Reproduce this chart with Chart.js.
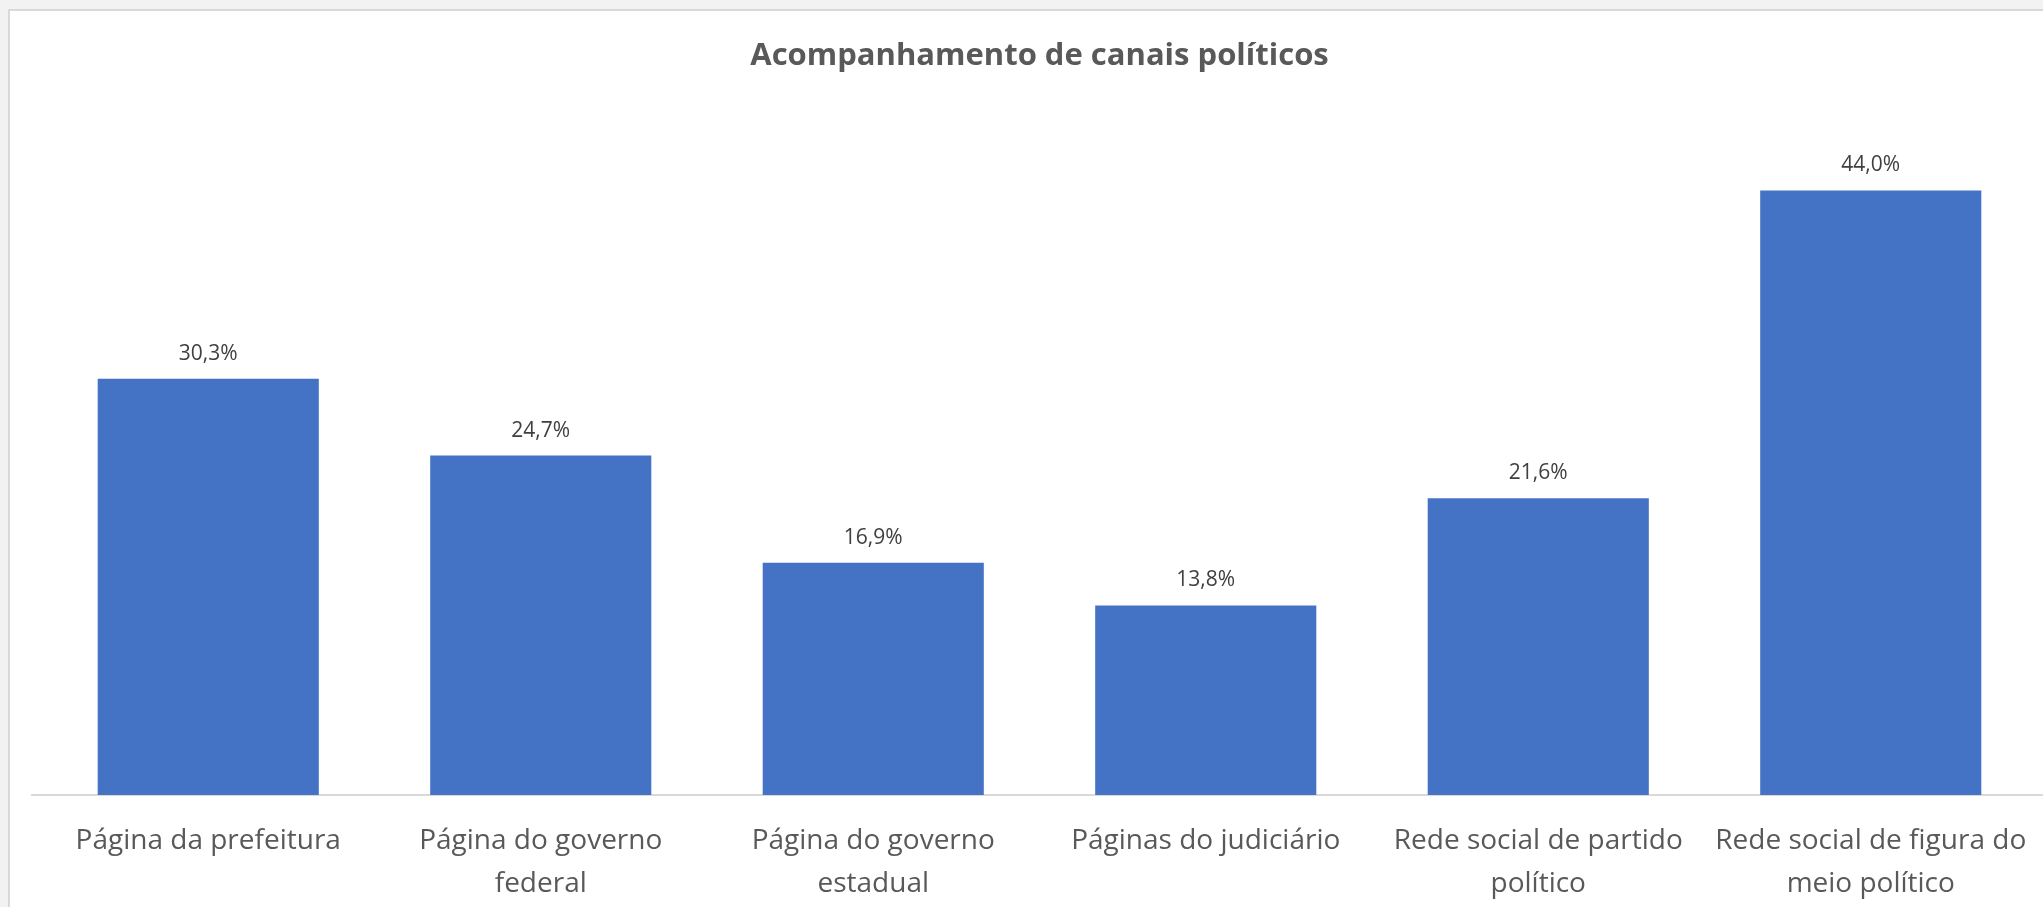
<!DOCTYPE html>
<html>
<head>
<meta charset="utf-8">
<script src="https://cdn.jsdelivr.net/npm/chart.js@4"></script>
<style>
  html, body { margin: 0; padding: 0; background: #f2f2f2; overflow: hidden; }
  #panel {
    position: absolute; left: 8px; top: 9px; right: -10px; bottom: -10px;
    background: #ffffff; border: 2px solid #d9d9d9;
  }
  #wrap { position: absolute; left: 12px; top: 12px; width: 2031px; height: 895px; }
</style>
</head>
<body>
<div id="panel"></div>
<div id="wrap"><canvas id="chart"></canvas></div>
<script>
// categories and values
const categories = [
    ['Página da prefeitura'],
    ['Página do governo', 'federal'],
    ['Página do governo', 'estadual'],
    ['Páginas do judiciário'],
    ['Rede social de partido', 'político'],
    ['Rede social de figura do', 'meio político']
];
const shares = [30.3, 24.7, 16.9, 13.8, 21.6, 44.0];
const chartTitle = 'Acompanhamento de canais políticos';

Chart.defaults.font.family = "'Open Sans', sans-serif";

function fmtPct(v) {
    return v.toFixed(1).replace('.', ',') + '%';
}

// baseline drawn a bit wider than the plot area
const baseline = {
    id: 'baseline',
    beforeDatasetsDraw(chart) {
        const ctx = chart.ctx;
        const y = chart.scales.y.getPixelForValue(0);
        ctx.save();
        ctx.strokeStyle = '#d9d9d9';
        ctx.lineWidth = 2;
        ctx.beginPath();
        ctx.moveTo(chart.chartArea.left - 11, y);
        ctx.lineTo(chart.width, y);
        ctx.stroke();
        ctx.restore();
    }
};

// value labels above each bar
const valueLabels = {
    id: 'valueLabels',
    afterDatasetsDraw(chart) {
        const ctx = chart.ctx;
        const meta = chart.getDatasetMeta(0);
        ctx.save();
        ctx.font = "21px 'Open Sans', sans-serif";
        ctx.fillStyle = '#404040';
        ctx.textAlign = 'center';
        ctx.textBaseline = 'middle';
        meta.data.forEach((bar, i) => {
            ctx.fillText(fmtPct(shares[i]), bar.x, bar.y - 25);
        });
        ctx.restore();
    }
};

new Chart(document.getElementById('chart'), {
    type: 'bar',
    data: {
        labels: categories,
        datasets: [{
            data: shares,
            backgroundColor: '#4472c4',
            borderWidth: 0,
            barPercentage: 0.665,
            categoryPercentage: 1
        }]
    },
    options: {
        responsive: true,
        maintainAspectRatio: false,
        animation: false,
        layout: { padding: { left: 30, right: 6, top: 0, bottom: 0 } },
        plugins: {
            legend: { display: false },
            tooltip: { enabled: false },
            title: {
                display: true,
                text: chartTitle,
                color: '#595959',
                font: { size: 31, weight: 'bold', lineHeight: 1.2 },
                padding: { top: 25.7, bottom: 33.1 }
            }
        },
        scales: {
            x: {
                grid: { display: false, drawTicks: false },
                border: { display: false },
                ticks: {
                    color: '#595959',
                    font: { size: 28, lineHeight: 1.54 },
                    padding: 24,
                    maxRotation: 0,
                    autoSkip: false
                },
                afterFit(scale) {
                    // fixed axis band, labels may reach past the plot edges
                    scale.height = 112;
                    scale.paddingLeft = 0;
                    scale.paddingRight = 0;
                }
            },
            y: {
                display: false,
                min: 0,
                max: 50
            }
        }
    },
    plugins: [baseline, valueLabels]
});
</script>
</body>
</html>
